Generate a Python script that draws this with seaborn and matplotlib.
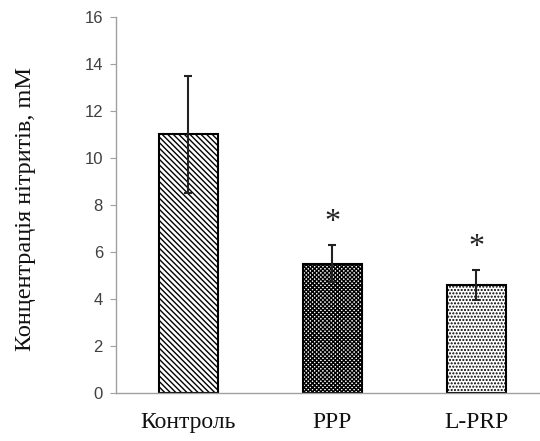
import matplotlib
matplotlib.use('Agg')
import matplotlib.pyplot as plt
import seaborn as sns
import numpy as np

# Data
groups = ['Контроль', 'PPP', 'L-PRP']
means = [11.0, 5.5, 4.6]
errors = [2.5, 0.78, 0.63]
marks = ['', '*', '*']
hatches = ['\\' * 6, 'x' * 8, '.' * 5]

sns.set_style("white")
plt.rcParams['hatch.linewidth'] = 1.0

fig = plt.figure(figsize=(5.4, 4.41), dpi=100)
ax = fig.add_axes([0.215, 0.109, 0.785, 0.8525])

sns.barplot(x=groups, y=means, ax=ax, color='white', edgecolor='black',
            linewidth=1.5, width=0.41, errorbar=None)
for patch, h in zip(ax.patches, hatches):
    patch.set_hatch(h)
    patch.set_facecolor('white')

xpos = np.arange(len(groups))
ax.errorbar(xpos, means, yerr=errors, fmt='none', ecolor='#222222',
            elinewidth=1.5, capsize=3, capthick=1.5)

# significance marks above the error bars
for x, m, e, s in zip(xpos, means, errors, marks):
    if s:
        ax.text(x, m + e + 0.35, s, ha='center', va='bottom', fontsize=23,
                family='Liberation Serif', color='#222222')

ax.set_ylim(0, 16)
ax.set_yticks(np.arange(0, 17, 2))
ax.set_xlim(-0.5, -0.5 + 424 / 144)

# category labels centered, boundary ticks as minor ticks
ax.set_xticks(xpos)
ax.set_xticklabels(groups, family='Liberation Serif', fontsize=17, color='#111111')
ax.set_xticks([0.5, 1.5], minor=True)
ax.tick_params(axis='x', which='major', length=0, pad=14)
ax.tick_params(axis='x', which='minor', length=5, color='#a0a0a0', direction='out')
ax.tick_params(axis='y', length=4.5, color='#a0a0a0', direction='out',
               labelsize=12, labelcolor='#404040', pad=5, left=True)
for lab in ax.get_yticklabels():
    lab.set_family('Liberation Sans')

ax.set_ylabel('Концентрація нітритів, mM', family='Liberation Serif', fontsize=17.5,
              color='#111111')
ax.yaxis.set_label_coords(-0.19, 0.49)

for side in ['top', 'right']:
    ax.spines[side].set_visible(False)
for side in ['left', 'bottom']:
    ax.spines[side].set_color('#a0a0a0')
    ax.spines[side].set_linewidth(1.0)

fig.savefig('out.png', dpi=100)
